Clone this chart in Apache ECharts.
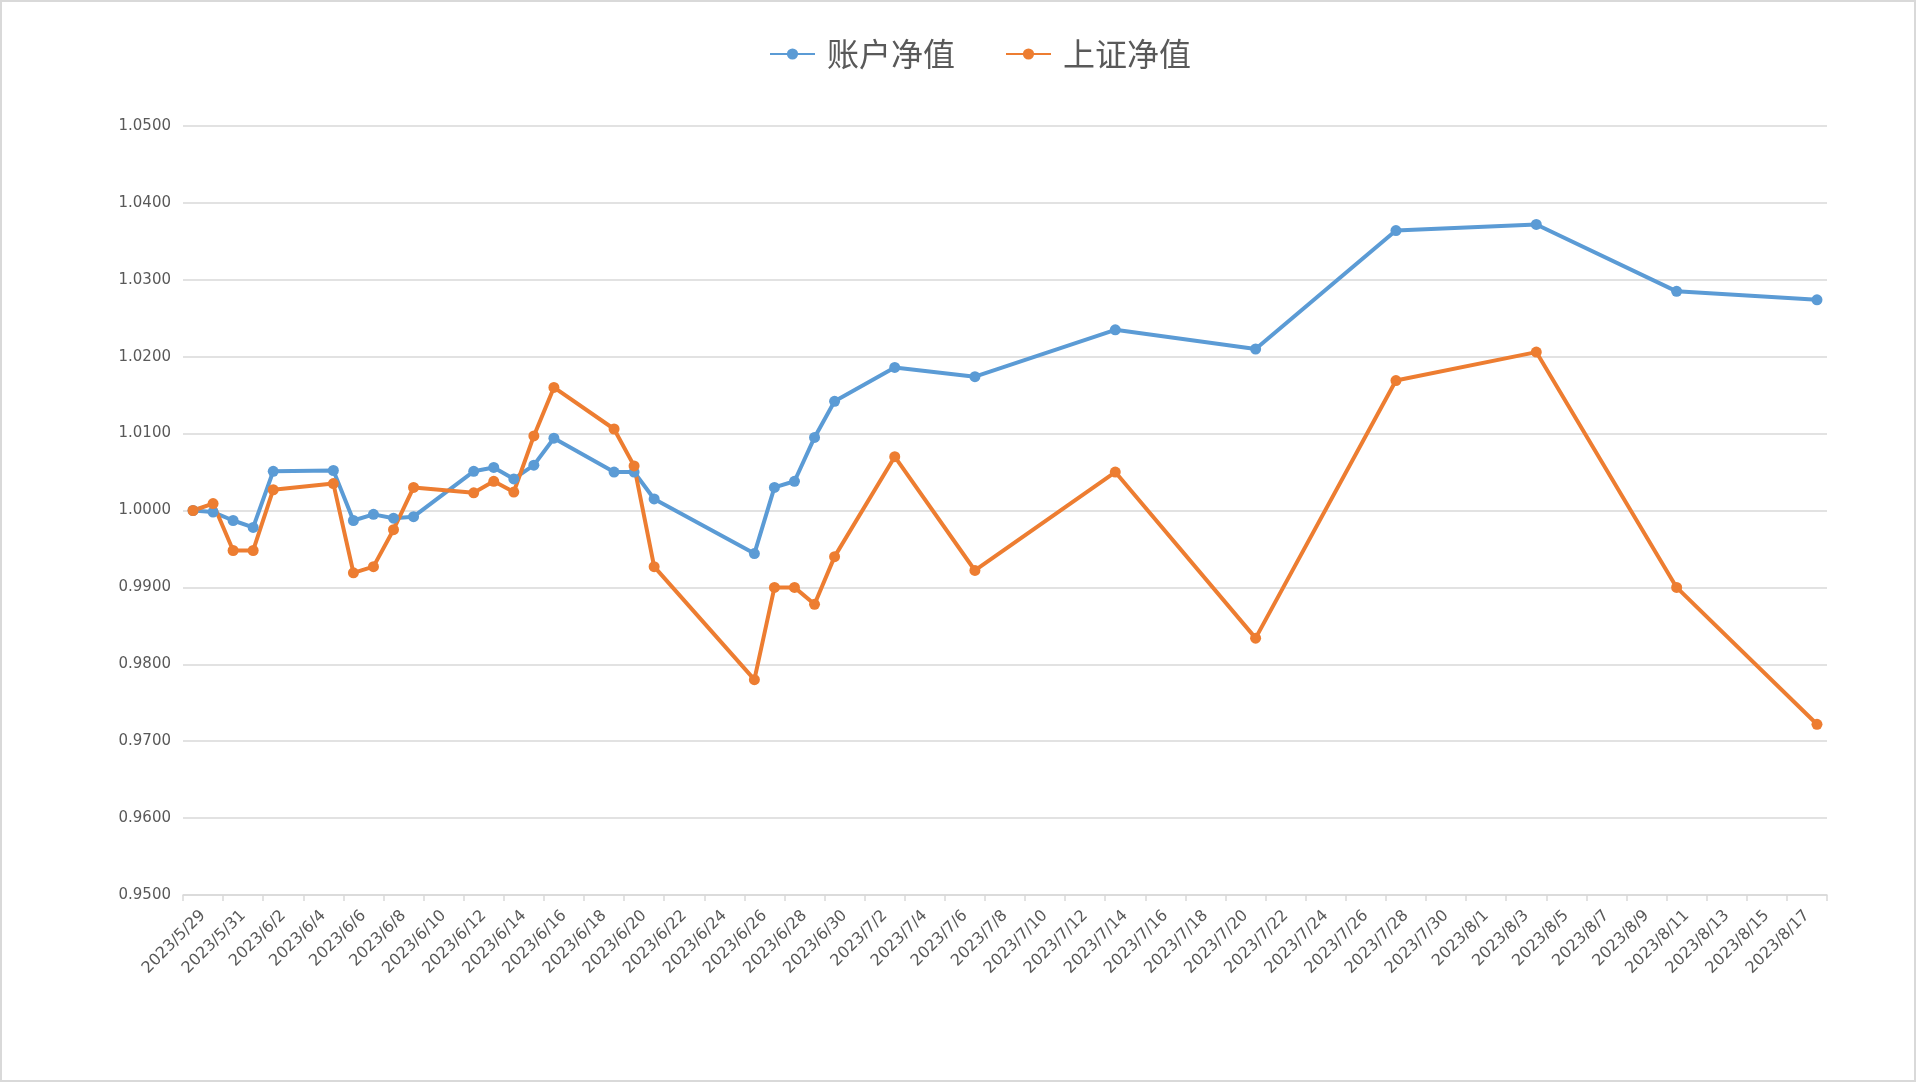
<!DOCTYPE html>
<html>
<head>
<meta charset="utf-8">
<script src="https://cdn.jsdelivr.net/npm/echarts@6/dist/echarts.min.js"></script>
<style>
html,body{margin:0;padding:0;background:#fff;}
#chart{width:1917px;height:1083px;}
</style>
</head>
<body>
<div id="chart"></div>
<script>
// ---- data ----
const dates = ['2023-05-29','2023-05-30','2023-05-31','2023-06-01','2023-06-02','2023-06-05','2023-06-06','2023-06-07','2023-06-08','2023-06-09','2023-06-12','2023-06-13','2023-06-14','2023-06-15','2023-06-16','2023-06-19','2023-06-20','2023-06-21','2023-06-26','2023-06-27','2023-06-28','2023-06-29','2023-06-30','2023-07-03','2023-07-07','2023-07-14','2023-07-21','2023-07-28','2023-08-04','2023-08-11','2023-08-18'];
const accountNav = [1.0000,0.9998,0.9987,0.9978,1.0051,1.0052,0.9987,0.9995,0.9990,0.9992,1.0051,1.0056,1.0041,1.0059,1.0094,1.0050,1.0050,1.0015,0.9944,1.0030,1.0038,1.0095,1.0142,1.0186,1.0174,1.0235,1.0210,1.0364,1.0372,1.0285,1.0274];
const sseNav = [1.0000,1.0009,0.9948,0.9948,1.0027,1.0035,0.9919,0.9927,0.9975,1.0030,1.0023,1.0038,1.0024,1.0097,1.0160,1.0106,1.0058,0.9927,0.9780,0.9900,0.9900,0.9878,0.9940,1.0070,0.9922,1.0050,0.9834,1.0169,1.0206,0.9900,0.9722];
const xTickLabels = ['2023/5/29','2023/5/31','2023/6/2','2023/6/4','2023/6/6','2023/6/8','2023/6/10','2023/6/12','2023/6/14','2023/6/16','2023/6/18','2023/6/20','2023/6/22','2023/6/24','2023/6/26','2023/6/28','2023/6/30','2023/7/2','2023/7/4','2023/7/6','2023/7/8','2023/7/10','2023/7/12','2023/7/14','2023/7/16','2023/7/18','2023/7/20','2023/7/22','2023/7/24','2023/7/26','2023/7/28','2023/7/30','2023/8/1','2023/8/3','2023/8/5','2023/8/7','2023/8/9','2023/8/11','2023/8/13','2023/8/15','2023/8/17'];
const seriesNames = ['账户净值','上证净值'];

const axisMin = new Date(2023, 4, 28, 12, 0, 0).getTime();
const axisMax = new Date(2023, 7, 18, 12, 0, 0).getTime();

const chart = echarts.init(document.getElementById('chart'), null, {renderer:'canvas'});
const gridColor = '#d9d9d9';
const textColor = '#595959';

chart.setOption({
  backgroundColor: '#ffffff',
  animation: false,
  graphic: [{
    type: 'rect', silent: true,
    shape: {x: 1, y: 1, width: 1914, height: 1080},
    style: {fill: 'none', stroke: gridColor, lineWidth: 2}
  }],
  legend: {
    left: 764, top: 33,
    itemWidth: 45, itemHeight: 14, itemGap: 50,
    textStyle: {fontSize: 32, color: textColor, fontFamily: '"Noto Sans CJK SC", sans-serif', padding: [0,0,0,7]},
    data: seriesNames
  },
  grid: {left: 183, right: 90, top: 126, bottom: 188, containLabel: false},
  xAxis: [{
    type: 'time', min: axisMin, max: axisMax, show: false
  }, {
    type: 'category', data: xTickLabels, boundaryGap: true, position: 'bottom',
    axisLine: {show: true, lineStyle: {color: gridColor, width: 1.5}},
    axisTick: {show: true, length: 6, lineStyle: {color: gridColor, width: 1.5}},
    axisLabel: {rotate: 45, interval: 0, margin: 18, color: textColor, fontSize: 16, fontFamily: '"DejaVu Sans", sans-serif'},
    splitLine: {show: false}
  }],
  yAxis: {
    type: 'value', min: 0.95, max: 1.05, interval: 0.01,
    axisLine: {show: false}, axisTick: {show: false},
    axisLabel: {formatter: v => v.toFixed(4), color: textColor, fontSize: 15, margin: 12, fontFamily: '"DejaVu Sans", sans-serif'},
    splitLine: {lineStyle: {color: gridColor, width: 1.5}}
  },
  series: [{
    name: seriesNames[0], type: 'line', xAxisIndex: 0,
    data: dates.map((d, i) => [d, accountNav[i]]),
    symbol: 'circle', symbolSize: 11,
    lineStyle: {color: '#5B9BD5', width: 4},
    itemStyle: {color: '#5B9BD5'}
  }, {
    name: seriesNames[1], type: 'line', xAxisIndex: 0,
    data: dates.map((d, i) => [d, sseNav[i]]),
    symbol: 'circle', symbolSize: 11,
    lineStyle: {color: '#ED7D31', width: 4},
    itemStyle: {color: '#ED7D31'}
  }]
});
</script>
</body>
</html>
